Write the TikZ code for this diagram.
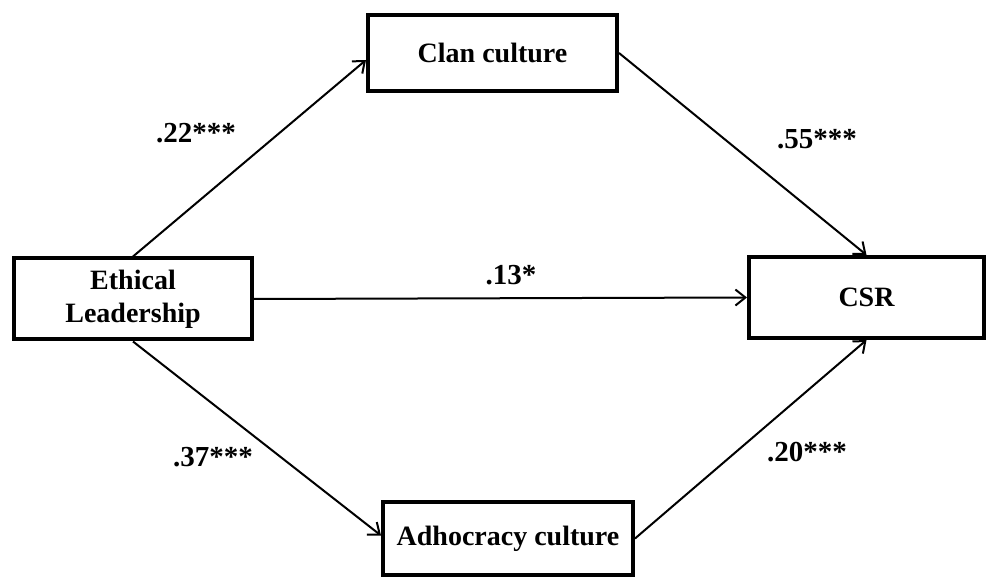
\documentclass[tikz,border=0pt]{standalone}
\usepackage{fontspec}
\setmainfont{Liberation Serif}
\usetikzlibrary{arrows.meta}
\tikzset{
  box/.style={draw=black, line width=2pt, rectangle, inner sep=0pt, align=center,
    font=\bfseries\fontsize{14}{16.5}\selectfont},
  arr/.style={line width=1pt, -{Straight Barb[length=5pt,width=8pt,line width=1pt]}},
  lbl/.style={font=\bfseries\fontsize{14.5}{16}\selectfont, inner sep=0pt}
}
\begin{document}
\begin{tikzpicture}[x=0.5pt,y=-0.5pt]
\useasboundingbox (0,0) rectangle (986,577);
\node[box, minimum width=118.75pt, minimum height=40.5pt] (el) at (133,299) {Ethical\\Leadership};
\node[box, minimum width=124.5pt, minimum height=38pt] (clan) at (492.5,53) {Clan culture};
\node[box, minimum width=117.5pt, minimum height=40.5pt] (csr) at (866.5,297.5) {CSR};
\node[box, minimum width=125pt, minimum height=36.5pt] (adh) at (508,538.5) {Adhocracy culture};
\draw[arr] (el.north) -- ([yshift=-3.5pt]clan.west);
\draw[arr] (clan.east) -- (csr.north);
\draw[arr] (el.east) -- (csr.west);
\draw[arr] (el.south) -- ([yshift=1.5pt]adh.west);
\draw[arr] (adh.east) -- (csr.south);
\node[lbl] (l1) at (196,133) {.22***};
\node[lbl] (l2) at (817,139) {.55***};
\node[lbl] (l3) at (511,275) {.13*};
\node[lbl] (l4) at (213,457) {.37***};
\node[lbl] (l5) at (807,452) {.20***};
\end{tikzpicture}
\end{document}
